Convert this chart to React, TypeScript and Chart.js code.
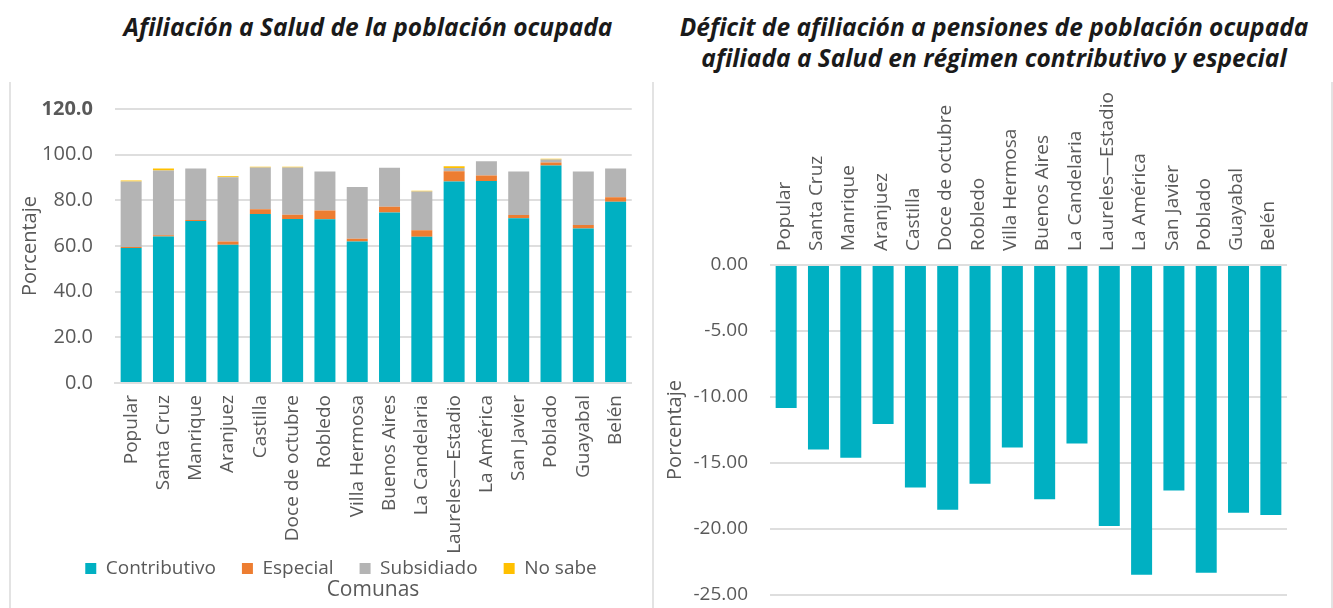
import React, { useEffect, useRef } from "react";
import { Chart, registerables } from "chart.js";

Chart.register(...registerables);

const categories = [
  "Popular", "Santa Cruz", "Manrique", "Aranjuez", "Castilla", "Doce de octubre",
  "Robledo", "Villa Hermosa", "Buenos Aires", "La Candelaria", "Laureles\u2014Estadio",
  "La América", "San Javier", "Poblado", "Guayabal", "Belén",
];

const contributivo = [59.1, 64.2, 71.0, 60.6, 74.0, 71.8, 71.7, 62.0, 74.7, 64.0, 88.2, 88.5, 72.1, 95.3, 67.7, 79.4];
const especial = [0.5, 0.5, 0.4, 1.4, 2.1, 1.9, 3.8, 1.2, 2.5, 2.9, 4.5, 2.4, 1.5, 1.3, 1.5, 1.9];
const subsidiado = [28.7, 28.4, 22.5, 28.1, 18.3, 20.7, 17.1, 22.6, 17.1, 17.0, 1.5, 6.2, 19.0, 1.3, 23.4, 12.6];
const noSabe = [0.4, 0.8, 0, 0.4, 0.3, 0.3, 0, 0, 0, 0.3, 0.7, 0, 0, 0.3, 0, 0];

const deficit = [-10.83, -13.98, -14.6, -12.05, -16.86, -18.54, -16.58, -13.83, -17.75, -13.53, -19.78, -23.47, -17.09, -23.32, -18.76, -18.94];

const leftTitle = "Afiliación a Salud de la población ocupada";
const rightTitle1 = "Déficit de afiliación a pensiones de población ocupada";
const rightTitle2 = "afiliada a Salud en régimen contributivo y especial";

const TEAL = "#00B0C2";
const ORANGE = "#ED7D31";
const GRAY = "#B4B4B4";
const YELLOW = "#FFC000";
const TEXT = "#595959";
const GRID = "#DEDEDE";
const FONT = "'Open Sans', sans-serif";

const noClip = (s: any) => {
  s._computeLabelArea = () => undefined;
};

function LeftChart() {
  const ref = useRef<HTMLCanvasElement>(null);
  useEffect(() => {
    const ds = (label: string, data: number[], color: string) => ({
      label, data, backgroundColor: color, borderWidth: 0,
      barPercentage: 0.65, categoryPercentage: 1,
    });
    const chart = new Chart(ref.current!, {
      type: "bar",
      data: {
        labels: categories,
        datasets: [
          ds("Contributivo", contributivo, TEAL),
          ds("Especial", especial, ORANGE),
          ds("Subsidiado", subsidiado, GRAY),
          ds("No sabe", noSabe, YELLOW),
        ],
      },
      options: {
        responsive: false,
        animation: false,
        layout: { padding: { top: 27, right: 19, left: 40, bottom: 20 } },
        plugins: {
          legend: {
            position: "bottom",
            labels: {
              boxWidth: 11, boxHeight: 11, padding: 26, color: TEXT,
              font: { family: FONT, size: 19 },
            },
          },
          tooltip: { enabled: false },
          title: { display: false },
        },
        scales: {
          x: {
            stacked: true,
            grid: { display: false, drawTicks: false },
            border: { display: true, color: GRID, width: 2 },
            ticks: {
              color: TEXT, font: { family: FONT, size: 19 },
              minRotation: 90, maxRotation: 90, autoSkip: false, padding: 12,
            },
            afterFit: (s: any) => { s.height = 150; noClip(s); },
          },
          y: {
            stacked: true,
            min: 0, max: 120,
            grid: { color: GRID, lineWidth: 2, drawTicks: true, tickLength: 22, tickColor: "rgba(0,0,0,0)" },
            border: { display: false },
            ticks: {
              stepSize: 20, padding: 0, color: TEXT,
              font: (c: any) => ({
                family: FONT, size: 20,
                weight: c.tick && c.tick.value === 120 ? "bold" : "normal",
              }),
              callback: (v: any) => Number(v).toFixed(1),
            },
            title: {
              display: true, text: "Porcentaje", color: TEXT,
              font: { family: FONT, size: 20 }, padding: { top: -32, bottom: 0 },
            },
            afterFit: (s: any) => { s.width = 65; noClip(s); },
          },
        },
      },
    });
    return () => chart.destroy();
  }, []);
  return <canvas ref={ref} width={641} height={526} style={{ width: 641, height: 526, display: "block" }} />;
}

function RightChart() {
  const ref = useRef<HTMLCanvasElement>(null);
  useEffect(() => {
    const chart = new Chart(ref.current!, {
      type: "bar",
      data: {
        labels: categories,
        datasets: [
          {
            label: "Déficit", data: deficit, backgroundColor: TEAL, borderWidth: 0,
            barPercentage: 0.65, categoryPercentage: 1,
          },
        ],
      },
      options: {
        responsive: false,
        animation: false,
        layout: { padding: { top: 0, right: 46, left: 0, bottom: 13 } },
        plugins: { legend: { display: false }, tooltip: { enabled: false } },
        scales: {
          x: {
            position: "top",
            grid: { display: false, drawTicks: false },
            border: { display: false },
            ticks: {
              color: TEXT, font: { family: FONT, size: 19 },
              minRotation: 90, maxRotation: 90, autoSkip: false, padding: 14,
              labelOffset: 21,
            },
            afterFit: (s: any) => { s.height = 185; noClip(s); },
          },
          y: {
            min: -25, max: 0,
            grid: { color: GRID, lineWidth: 2, drawTicks: true, tickLength: 22, tickColor: "rgba(0,0,0,0)" },
            border: { display: false },
            ticks: {
              stepSize: 5, padding: 0, color: TEXT,
              font: { family: FONT, size: 19 },
              callback: (v: any) => Number(v).toFixed(2),
            },
            title: {
              display: true, text: "Porcentaje", color: TEXT,
              font: { family: FONT, size: 20 }, padding: { top: 10, bottom: 0 },
            },
            afterFit: (s: any) => { s.width = 117; noClip(s); },
          },
        },
      },
    });
    return () => chart.destroy();
  }, []);
  return <canvas ref={ref} width={680} height={528} style={{ width: 680, height: 528, display: "block" }} />;
}

const titleStyle: React.CSSProperties = {
  position: "absolute",
  fontFamily: "'Open Sans', sans-serif",
  fontWeight: 700,
  fontStyle: "italic",
  fontSize: 24.5,
  color: "#1a1a1a",
  textAlign: "center",
  whiteSpace: "nowrap",
  lineHeight: "31px",
};

export default function App() {
  return (
    <div style={{ position: "absolute", left: 0, top: 0, width: 1333, height: 608, background: "#fff", overflow: "hidden" }}>
      <div style={{ ...titleStyle, left: 68, width: 600, top: 11 }}>{leftTitle}</div>
      <div style={{ ...titleStyle, left: 644, width: 700, top: 11 }}>
        {rightTitle1}
        <br />
        {rightTitle2}
      </div>
      <div style={{ position: "absolute", left: 9, top: 82, width: 2, height: 526, background: "#E3E3E3" }} />
      <div style={{ position: "absolute", left: 652, top: 82, width: 2, height: 526, background: "#E3E3E3" }} />
      <div style={{ position: "absolute", left: 1331, top: 82, width: 2, height: 526, background: "#E3E3E3" }} />
      <div style={{ position: "absolute", left: 10, top: 82 }}>
        <LeftChart />
      </div>
      <div style={{ position: "absolute", left: 313, top: 575, width: 120, textAlign: "center", fontFamily: FONT, fontSize: 21, color: TEXT, lineHeight: "26px" }}>
        Comunas
      </div>
      <div style={{ position: "absolute", left: 653, top: 80 }}>
        <RightChart />
      </div>
    </div>
  );
}
